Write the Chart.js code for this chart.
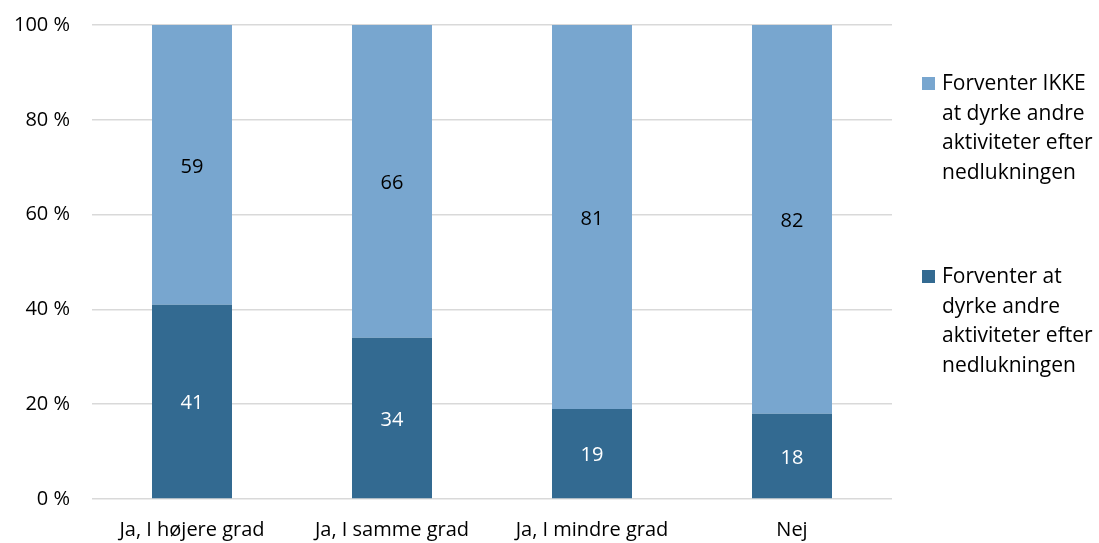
<!DOCTYPE html>
<html>
<head>
<meta charset="utf-8">
<script src="https://cdn.jsdelivr.net/npm/chart.js@4.4.1/dist/chart.umd.min.js"></script>
<style>
  body { margin: 0; background: #fff; }
  #wrap { position: relative; width: 1099px; height: 543px; }
  #legend { position: absolute; left: 922px; top: 68px; font-family: "Open Sans", Lato, sans-serif; font-size: 21px; line-height: 29.5px; color: #000; }
  .item { display: flex; align-items: flex-start; margin-bottom: 75px; }
  .box { width: 13px; height: 13px; margin-top: 9px; margin-right: 7px; flex: none; }
</style>
</head>
<body>
<div id="wrap">
  <canvas id="myChart" width="1099" height="543"></canvas>
  <div id="legend"></div>
</div>
<script>
// categories and values (percent)
let categories = ["Ja, I højere grad", "Ja, I samme grad", "Ja, I mindre grad", "Nej"];
let expectYes = [41, 34, 19, 18];
let expectNo = [59, 66, 81, 82];
let yTicks = [0, 20, 40, 60, 80, 100];

let colorYes = "#336a91";
let colorNo = "#78a6cf";

let legendItems = [
  { text: ["Forventer IKKE", "at dyrke andre", "aktiviteter efter", "nedlukningen"], color: colorNo },
  { text: ["Forventer at", "dyrke andre", "aktiviteter efter", "nedlukningen"], color: colorYes }
];

// html legend
let legend = document.getElementById("legend");
legendItems.forEach((item) => {
  let div = document.createElement("div");
  div.className = "item";
  div.innerHTML = '<span class="box" style="background:' + item.color + '"></span><span>' + item.text.join("<br>") + "</span>";
  legend.appendChild(div);
});

const fontFam = '"Open Sans", Lato, sans-serif';

// value labels in the middle of each bar
const barLabels = {
  id: "barLabels",
  afterDatasetsDraw(chart) {
    let c = chart.ctx;
    c.save();
    c.font = "20px " + fontFam;
    c.textAlign = "center";
    c.textBaseline = "middle";
    chart.data.datasets.forEach((ds, i) => {
      chart.getDatasetMeta(i).data.forEach((bar, j) => {
        c.fillStyle = ds.labelColor;
        c.fillText(ds.data[j], bar.x, (bar.y + bar.base) / 2 + 2);
      });
    });
    c.restore();
  }
};

var ctx = document.getElementById("myChart").getContext("2d");
var myChart = new Chart(ctx, {
  type: "bar",
  data: {
    labels: categories,
    datasets: [
      { label: "Forventer at dyrke andre aktiviteter efter nedlukningen", data: expectYes, backgroundColor: colorYes, labelColor: "#ffffff" },
      { label: "Forventer IKKE at dyrke andre aktiviteter efter nedlukningen", data: expectNo, backgroundColor: colorNo, labelColor: "#000000" }
    ]
  },
  options: {
    responsive: false,
    animation: false,
    layout: { padding: { top: 25, right: 207, left: 0, bottom: 0 } },
    datasets: { bar: { barPercentage: 0.4, categoryPercentage: 1 } },
    plugins: { legend: { display: false }, tooltip: { enabled: false } },
    scales: {
      x: {
        stacked: true,
        grid: { display: false },
        border: { display: false },
        ticks: { color: "#000", font: { family: fontFam, size: 20 }, padding: 11, maxRotation: 0 },
        afterFit(scale) { scale.height = 44; scale.paddingLeft = 0; scale.paddingRight = 0; }
      },
      y: {
        stacked: true,
        min: 0,
        max: 100,
        afterBuildTicks(scale) { scale.ticks = yTicks.map((v) => ({ value: v })); },
        grid: { color: "#d9d9d9", lineWidth: 1.5, drawTicks: false },
        border: { display: false },
        ticks: {
          color: "#000",
          font: { family: fontFam, size: 20 },
          padding: 22,
          callback: (v) => v + " %"
        },
        afterFit(scale) { scale.width = 92; scale.paddingTop = 0; scale.paddingBottom = 0; }
      }
    }
  },
  plugins: [barLabels]
});
</script>
</body>
</html>
